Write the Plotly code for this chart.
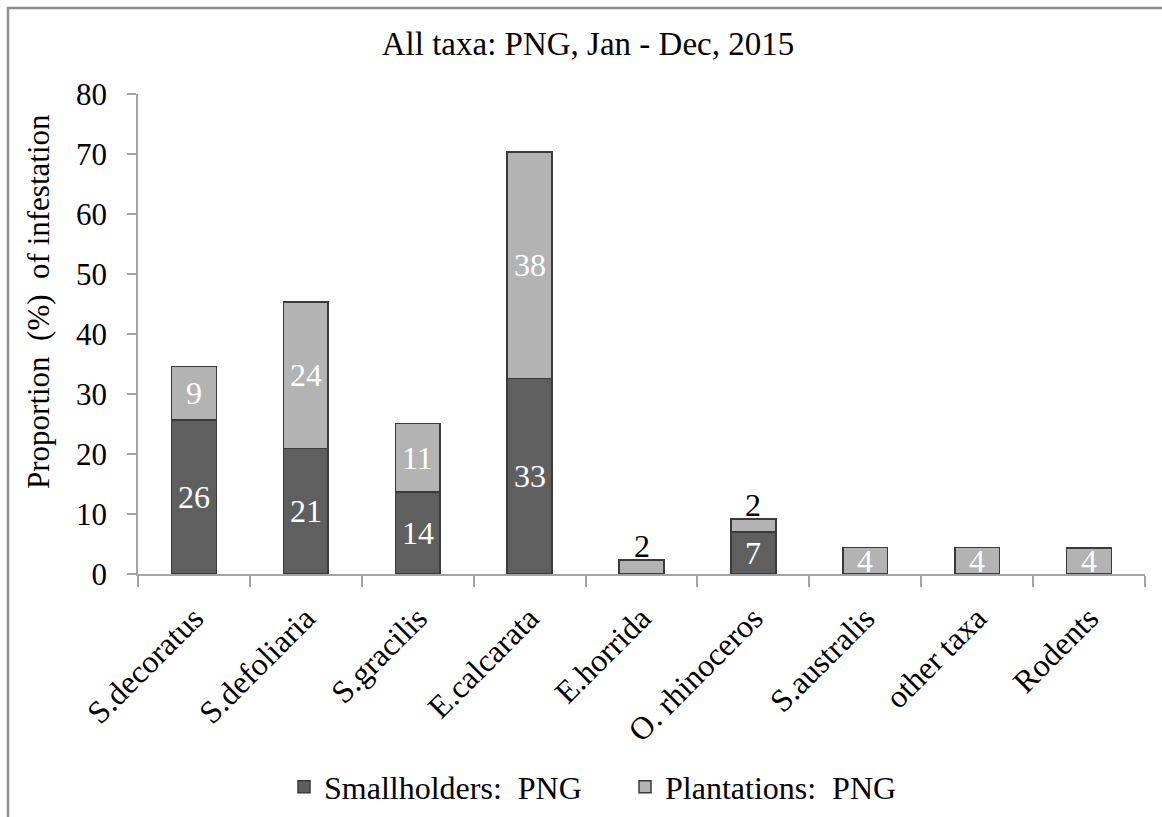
import plotly.graph_objects as go

# Infestation proportions (%) per taxon, PNG 2015
categories = ["S.decoratus", "S.defoliaria", "S.gracilis", "E.calcarata", "E.horrida",
              "O. rhinoceros", "S.australis", "other taxa", "Rodents"]
smallholders = [25.7, 20.9, 13.7, 32.6, None, 7.0, None, None, None]
plantations = [8.9, 24.4, 11.4, 37.7, 2.3, 2.2, 4.4, 4.4, 4.35]
y_ticks = list(range(0, 81, 10))

DARK = "#5f5f5f"
LIGHT = "#b3b3b3"
EDGE = "#3a3a3a"
AXIS = "#a3a3a3"
FONT = "Liberation Serif, Times New Roman, serif"

W, H = 1162, 817
ML, MR, MT, MB = 138, 17, 94, 243
PW, PH = W - ML - MR, H - MT - MB


def px_x(x):
    return (x - ML) / PW


def px_y(y):
    return (H - MB - y) / PH


fig = go.Figure()
fig.add_trace(go.Bar(
    name="Smallholders:\u00a0 PNG", x=categories, y=smallholders,
    marker=dict(color=DARK, line=dict(color=EDGE, width=1.5)),
))
fig.add_trace(go.Bar(
    name="Plantations:\u00a0 PNG", x=categories, y=plantations,
    marker=dict(color=LIGHT, line=dict(color=EDGE, width=1.5)),
))

# Segment value labels: centred in white, or above the bar in black when the segment is thin
annotations = []
for cat, lo, hi in zip(categories, smallholders, plantations):
    base = 0.0
    for v in (lo, hi):
        if v is None:
            continue
        if v < 3:
            annotations.append(dict(
                x=cat, y=base + v, xref="x", yref="y", text=f"{v:.0f}",
                showarrow=False, yanchor="bottom", yshift=-6,
                font=dict(family=FONT, size=32, color="black")))
        else:
            annotations.append(dict(
                x=cat, y=base + v / 2, xref="x", yref="y", text=f"{v:.0f}",
                showarrow=False, yanchor="middle",
                font=dict(family=FONT, size=32, color="white")))
        base += v

annotations.append(dict(
    x=px_x(38), y=px_y(302), xref="paper", yref="paper",
    text="Proportion\u00a0 (%)\u00a0 of infestation", textangle=-90,
    showarrow=False, xanchor="center", yanchor="middle",
    font=dict(family=FONT, size=31, color="black")))

fig.update_layout(
    width=W, height=H,
    margin=dict(l=ML, r=MR, t=MT, b=MB, autoexpand=False),
    paper_bgcolor="white", plot_bgcolor="white",
    barmode="stack", bargap=0.6,
    font=dict(family=FONT, size=30, color="black"),
    title=dict(text="All taxa: PNG, Jan - Dec, 2015", x=588 / W, xanchor="center",
               y=1 - 43 / H, yanchor="middle", yref="container",
               font=dict(family=FONT, size=33, color="black")),
    xaxis=dict(
        showline=True, linecolor=AXIS, linewidth=1.5,
        ticks="outside", tickson="boundaries", ticklen=11, tickcolor=AXIS, tickwidth=1.5,
        tickangle=-45, tickfont=dict(family=FONT, size=32, color="black"),
        ticklabelstandoff=11,
        showgrid=False, zeroline=False,
    ),
    yaxis=dict(
        range=[0, 80], tickvals=y_ticks, showline=True, linecolor=AXIS, linewidth=1.5,
        ticks="outside", ticklen=9, tickcolor=AXIS, tickwidth=1.5,
        tickfont=dict(family=FONT, size=31, color="black"), ticklabelstandoff=14,
        showgrid=False, zeroline=False,
    ),
    legend=dict(
        orientation="h", x=px_x(284), xanchor="left", y=px_y(787), yanchor="middle",
        font=dict(family=FONT, size=32, color="black"),
        entrywidth=296, traceorder="normal", bgcolor="rgba(0,0,0,0)",
    ),
    annotations=annotations,
    shapes=[dict(
        type="rect", xref="paper", yref="paper",
        x0=px_x(8), x1=px_x(W + 10), y0=px_y(H + 10), y1=px_y(8),
        line=dict(color="#8f8f8f", width=2.5), fillcolor="rgba(0,0,0,0)", layer="below",
    )],
)

fig.write_html("out.html")
